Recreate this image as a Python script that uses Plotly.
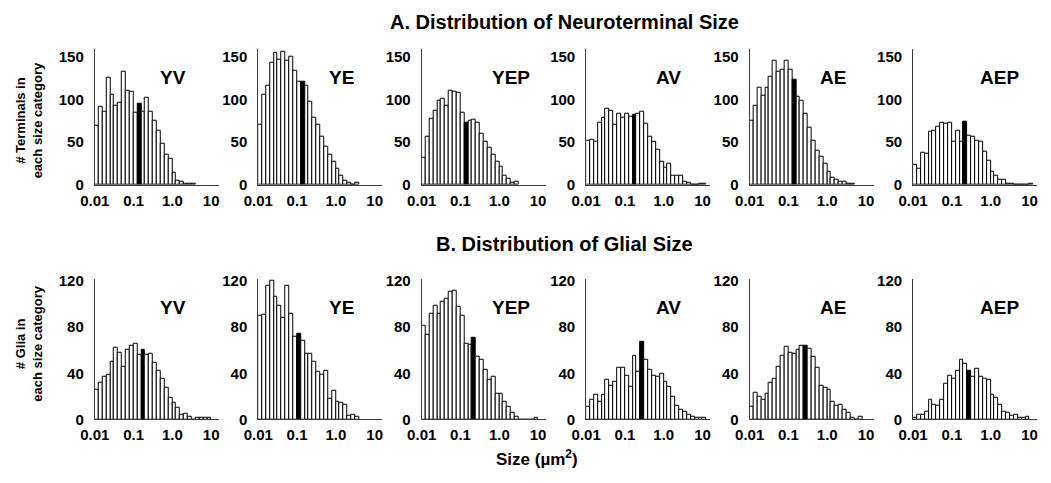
import numpy as np
import plotly.graph_objects as go

W, H = 1051, 483

# Groups shown left to right
groups = ["YV", "YE", "YEP", "AV", "AE", "AEP"]

# Size bins: 10 per decade starting at 0.01 µm²
bin_start = 0.01
bins_per_decade = 10

# Panel A: neuroterminal counts per size bin
terminal_yv = [69, 92, 86, 126, 106, 93, 97, 133, 110, 109, 85, 95, 86, 102, 86, 75, 63, 48, 35, 30, 14, 5, 3, 1, 1, 1]
terminal_ye = [71, 106, 117, 144, 155, 147, 157, 146, 151, 134, 121, 121, 117, 98, 79, 70, 57, 45, 35, 27, 19, 10, 5, 2, 0, 2]
terminal_yep = [32, 57, 78, 87, 99, 101, 93, 110, 109, 108, 85, 73, 75, 76, 73, 60, 51, 44, 35, 27, 21, 10, 7, 2, 3]
terminal_av = [52, 53, 50, 73, 79, 89, 87, 71, 84, 79, 83, 80, 82, 83, 86, 72, 57, 50, 41, 27, 20, 25, 10, 11, 11, 3, 2, 0, 0, 1, 1]
terminal_ae = [75, 93, 114, 105, 114, 127, 146, 133, 135, 146, 135, 123, 103, 99, 84, 67, 52, 40, 33, 25, 15, 8, 6, 4, 3, 1, 1]
terminal_aep = [23, 19, 38, 37, 62, 63, 68, 73, 72, 73, 51, 63, 50, 74, 58, 56, 52, 51, 39, 28, 15, 10, 6, 6, 1, 1, 0, 0, 0, 0, 1]
terminal_median_bin = [11, 11, 11, 12, 11, 13]

# Panel B: glial counts per size bin
glia_yv = [26, 32, 37, 39, 50, 62, 58, 46, 60, 64, 66, 56, 60, 56, 57, 49, 42, 35, 27, 19, 14, 10, 4, 5, 2, 0, 1, 1, 1, 1]
glia_ye = [90, 91, 116, 120, 106, 99, 88, 116, 92, 72, 74, 68, 57, 57, 50, 41, 39, 42, 18, 25, 15, 14, 13, 3, 4, 2]
glia_yep = [81, 73, 92, 99, 92, 102, 105, 111, 112, 98, 90, 66, 65, 71, 54, 52, 43, 34, 37, 22, 22, 15, 11, 6, 2, 0, 0, 0, 0, 1]
glia_av = [11, 17, 21, 15, 21, 34, 29, 33, 45, 45, 38, 28, 55, 41, 67, 52, 43, 38, 37, 40, 33, 28, 20, 12, 8, 7, 4, 2, 1, 1, 1]
glia_ae = [11, 23, 20, 17, 22, 32, 35, 46, 55, 63, 58, 57, 60, 64, 64, 61, 54, 45, 29, 27, 26, 15, 12, 13, 8, 6, 1, 0, 2]
glia_aep = [1, 4, 4, 7, 17, 13, 12, 17, 31, 38, 35, 42, 52, 48, 42, 37, 44, 37, 35, 34, 21, 19, 13, 7, 6, 3, 4, 1, 1, 2]
glia_median_bin = [12, 10, 13, 14, 14, 14]

# Axis ticks
x_tick_sizes = [0.01, 0.1, 1.0, 10]
x_tick_text = ["0.01", "0.1", "1.0", "10"]
terminal_y_ticks = [0, 50, 100, 150]
glia_y_ticks = [0, 40, 80, 120]

rows = [
    dict(series=[terminal_yv, terminal_ye, terminal_yep, terminal_av, terminal_ae, terminal_aep],
         median=terminal_median_bin, yticks=terminal_y_ticks, ymax=160,
         y0px=184, y1px=44, label_ypx=74),
    dict(series=[glia_yv, glia_ye, glia_yep, glia_av, glia_ae, glia_aep],
         median=glia_median_bin, yticks=glia_y_ticks, ymax=122,
         y0px=425.7, y1px=280.9, label_ypx=310),
]

# left edge of each panel (px) and panel width
panel_left_px = [81, 247, 413, 580, 746, 912]
panel_w_px = 126
label_rel_x = [0.63, 0.67, 0.72, 0.66, 0.67, 0.70]

FONT = "Liberation Sans, Arial, sans-serif"
AXIS_COLOR = "#3a3a3a"

fig = go.Figure()
layout = dict(
    width=W, height=H,
    margin=dict(l=0, r=0, t=0, b=0),
    paper_bgcolor="white", plot_bgcolor="white",
    showlegend=False,
    bargap=0,
    font=dict(family=FONT, color="black"),
)
annotations = []

x_lo = np.log10(bin_start)
x_range = [x_lo, x_lo + panel_w_px / 39.4]

k = 0
for r, row in enumerate(rows):
    for c, counts in enumerate(row["series"]):
        k += 1
        xa = "x" if k == 1 else f"x{k}"
        ya = "y" if k == 1 else f"y{k}"
        counts = np.asarray(counts, dtype=float)
        centers = x_lo + (np.arange(len(counts)) + 0.5) / bins_per_decade
        colors = ["white"] * len(counts)
        colors[row["median"][c]] = "black"
        fig.add_trace(go.Bar(
            x=centers, y=counts, width=1.0 / bins_per_decade,
            marker=dict(color=colors, line=dict(color="black", width=1)),
            xaxis=xa, yaxis=ya, hoverinfo="skip",
        ))
        x0 = panel_left_px[c] / W
        x1 = (panel_left_px[c] + panel_w_px) / W
        y0 = 1 - row["y0px"] / H
        y1 = 1 - row["y1px"] / H
        layout["xaxis" if k == 1 else f"xaxis{k}"] = dict(
            domain=[x0, x1], anchor=ya, range=x_range,
            tickvals=list(np.log10(x_tick_sizes)), ticktext=x_tick_text,
            showgrid=False, zeroline=False, showline=True,
            linecolor=AXIS_COLOR, linewidth=1, ticks="",
            tickfont=dict(size=15, family=FONT, color="black", weight="bold"),
            ticklabelstandoff=2, fixedrange=True,
        )
        layout["yaxis" if k == 1 else f"yaxis{k}"] = dict(
            domain=[y0, y1], anchor=xa, range=[0, row["ymax"]],
            tickvals=row["yticks"], showgrid=False, zeroline=False,
            showline=True, linecolor=AXIS_COLOR, linewidth=1, ticks="",
            tickfont=dict(size=15, family=FONT, color="black", weight="bold"),
            ticklabelstandoff=7, fixedrange=True,
        )
        annotations.append(dict(
            text=groups[c], showarrow=False,
            x=x0 + label_rel_x[c] * (x1 - x0), y=1 - row["label_ypx"] / H,
            xref="paper", yref="paper", xanchor="center", yanchor="middle",
            font=dict(size=19, family=FONT, color="black", weight="bold"),
        ))

# Section titles and shared axis titles
title_font = dict(size=20, family=FONT, color="black", weight="bold")
side_font = dict(size=13, family=FONT, color="black", weight="bold")
annotations += [
    dict(text="A. Distribution of Neuroterminal Size", x=558 / W, y=1 - 16 / H, font=title_font),
    dict(text="B. Distribution of Glial Size", x=558 / W, y=1 - 245 / H, font=title_font),
    dict(text="Size (µm<sup>2</sup>)", x=530 / W, y=1 - 466 / H,
         font=dict(size=17, family=FONT, color="black", weight="bold")),
    dict(text="# Terminals in<br>each size category", x=14 / W, y=1 - 118 / H,
         textangle=-90, font=side_font),
    dict(text="# Glia in<br>each size category", x=14 / W, y=1 - 348 / H,
         textangle=-90, font=side_font),
]
for a in annotations[-5:]:
    a.update(showarrow=False, xref="paper", yref="paper",
             xanchor="center", yanchor="middle")

layout["annotations"] = annotations
fig.update_layout(**layout)
fig.write_html("out.html")
